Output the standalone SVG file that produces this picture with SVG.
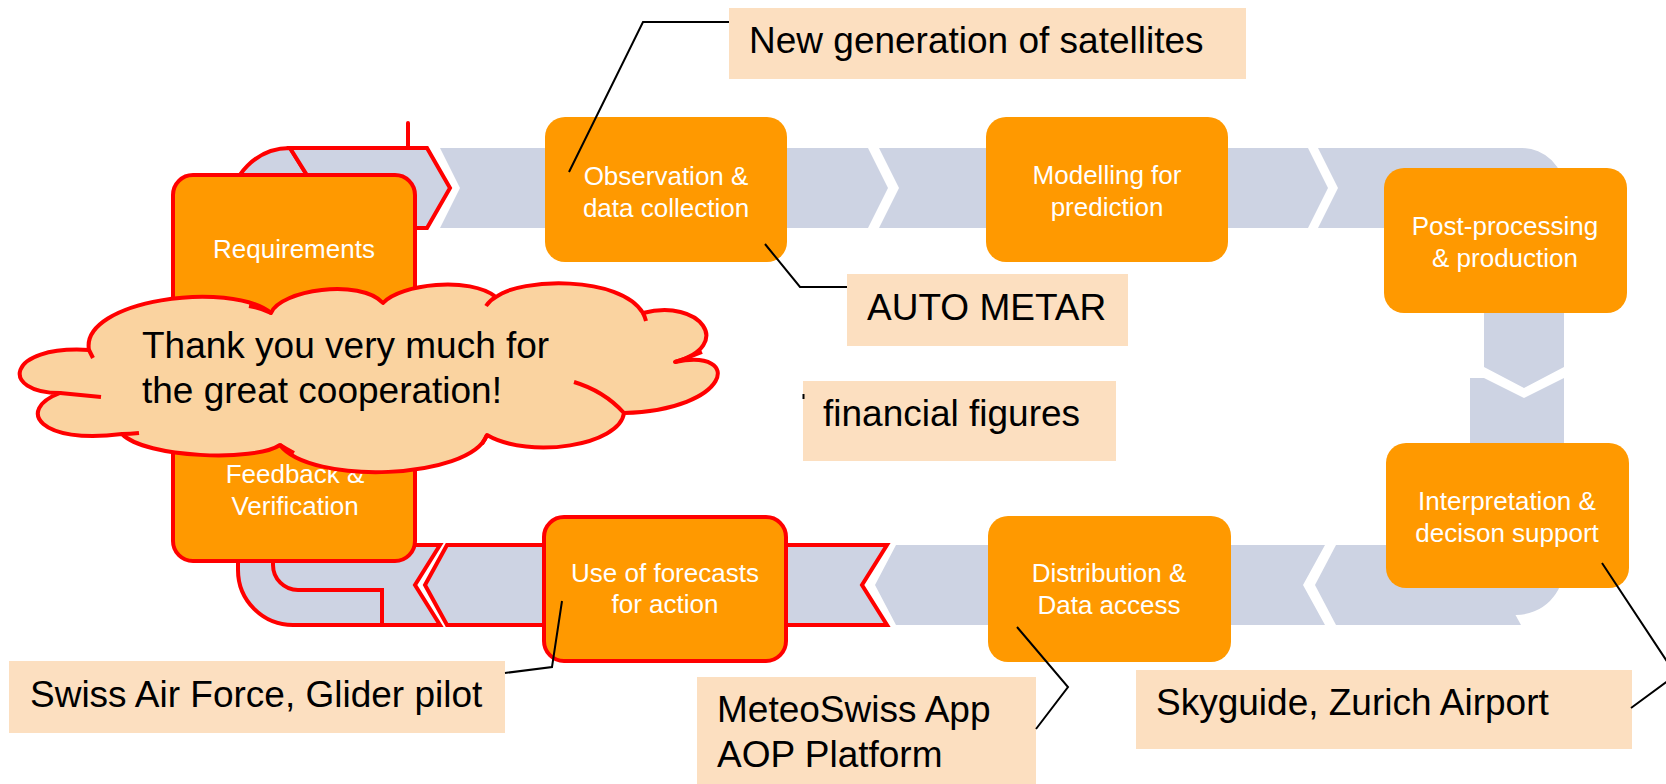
<svg xmlns="http://www.w3.org/2000/svg" width="1666" height="784" viewBox="0 0 1666 784">
<style>
.band{fill:#CDD3E3}
.hl{fill:#CDD3E3;stroke:#FF0000;stroke-width:4;stroke-linejoin:miter}
.box{fill:#FF9900}
.boxhl{fill:#FF9900;stroke:#FF0000;stroke-width:4}
.lbl{font-family:"Liberation Sans",Arial,sans-serif;font-size:26px;fill:#FFFFFF;text-anchor:middle}
.note{fill:#FCDFC0}
.ntxt{font-family:"Liberation Sans",Arial,sans-serif;font-size:37px;fill:#000000}
.lead{fill:none;stroke:#000000;stroke-width:2}
.redline{fill:none;stroke:#FF0000;stroke-width:4}
</style>
<rect width="1666" height="784" fill="#FFFFFF"/>

<!-- process band: chevron segments and corner pieces -->
<g id="connectors">
  <!-- top row -->
  <path class="band" d="M440,148 H868 L888,188 L868,228 H440 L460,188 Z"/>
  <path class="band" d="M879,148 H1308 L1328,188 L1308,228 H879 L899,188 Z"/>
  <path class="band" d="M1318,148 H1522 A42,42 0 0 1 1564,190 V367 L1524,388 L1484,367 V228 H1318 L1338,188 Z"/>
  <!-- right column, lower part with bottom-right corner -->
  <path class="band" d="M1484,378 L1524,398 L1564,378 V567 A48,48 0 0 1 1516,615 L1470,615 V378 Z"/>
  <!-- bottom row -->
  <path class="band" d="M1336,545 H1477 L1521,625 H1336 L1315,585 Z"/>
  <path class="band" d="M1325,545 L1303,585 L1325,625 H896 L875,585 L896,545 Z"/>
  <!-- highlighted segments -->
  <path class="hl" d="M887,545 L862,585 L887,625 H447 L425,585 L447,545 Z"/>
  <path class="hl" d="M440,545 L415,585 L440,625 H293 A55,55 0 0 1 238,570 V545 Z"/>
  <path class="redline" d="M273,555 V565 A25,25 0 0 0 298,590 H382 V625"/>
  <path class="hl" d="M290,148 L340,228 H230 V208 A60,60 0 0 1 290,148 Z"/>
  <path class="hl" d="M290,148 H427 L450,188 L427,228 H340 Z"/>
  <line x1="408" y1="123" x2="408" y2="148" stroke="#FF0000" stroke-width="4" stroke-linecap="round"/>
</g>

<g id="observation">
  <rect class="box" x="545" y="117" width="242" height="145" rx="20"/>
  <text class="lbl" x="666" y="185">Observation &amp;</text>
  <text class="lbl" x="666" y="217">data collection</text>
</g>
<g id="modelling">
  <rect class="box" x="986" y="117" width="242" height="145" rx="20"/>
  <text class="lbl" x="1107" y="184">Modelling for</text>
  <text class="lbl" x="1107" y="216">prediction</text>
</g>
<g id="postprocessing">
  <rect class="box" x="1384" y="168" width="243" height="145" rx="20"/>
  <text class="lbl" x="1505" y="235">Post-processing</text>
  <text class="lbl" x="1505" y="267">&amp; production</text>
</g>
<g id="interpretation">
  <rect class="box" x="1386" y="443" width="243" height="145" rx="20"/>
  <text class="lbl" x="1507" y="510">Interpretation &amp;</text>
  <text class="lbl" x="1507" y="542">decison support</text>
</g>
<g id="distribution">
  <rect class="box" x="988" y="516" width="243" height="146" rx="20"/>
  <text class="lbl" x="1109" y="582">Distribution &amp;</text>
  <text class="lbl" x="1109" y="614">Data access</text>
</g>
<g id="use-of-forecasts">
  <rect class="boxhl" x="544" y="517" width="242" height="144" rx="20"/>
  <text class="lbl" x="665" y="582">Use of forecasts</text>
  <text class="lbl" x="665" y="613">for action</text>
</g>
<g id="requirements-feedback">
  <rect class="boxhl" x="173" y="175" width="242" height="386" rx="20"/>
  <text class="lbl" x="294" y="258">Requirements</text>
  <text class="lbl" x="295" y="483">Feedback &amp;</text>
  <text class="lbl" x="295" y="515">Verification</text>
</g>

<!-- callout notes -->
<g id="note-satellites">
  <rect class="note" x="729" y="8" width="517" height="71"/>
  <text class="ntxt" x="749" y="53">New generation of satellites</text>
</g>
<g id="note-metar">
  <rect class="note" x="847" y="274" width="281" height="72"/>
  <text class="ntxt" x="867" y="320">AUTO METAR</text>
</g>
<g id="note-financial">
  <rect class="note" x="803" y="381" width="313" height="80"/>
  <text class="ntxt" x="823" y="426">financial figures</text>
</g>
<g id="note-airforce">
  <rect class="note" x="9" y="661" width="496" height="72"/>
  <text class="ntxt" x="30" y="707">Swiss Air Force, Glider pilot</text>
</g>
<g id="note-meteoswiss">
  <rect class="note" x="697" y="677" width="339" height="107"/>
  <text class="ntxt" x="717" y="722">MeteoSwiss App</text>
  <text class="ntxt" x="717" y="767">AOP Platform</text>
</g>
<g id="note-skyguide">
  <rect class="note" x="1136" y="670" width="496" height="79"/>
  <text class="ntxt" x="1156" y="715">Skyguide, Zurich Airport</text>
</g>

<!-- leader lines from notes to steps -->
<g id="leaders">
  <polyline class="lead" points="729,22 643,22 569,172"/>
  <polyline class="lead" points="847,287 800,287 765,244"/>
  <line class="lead" x1="803.5" y1="394" x2="803.5" y2="399" stroke-width="1.5"/>
  <polyline class="lead" points="562,601 552,667 505,673"/>
  <polyline class="lead" points="1017,627 1068,687 1036,729"/>
  <polyline class="lead" points="1602,563 1676,675 1631,708"/>
</g>

<!-- thank-you cloud -->
<g id="cloud">
  <path d="M89,350 C80,300 230,280 271,313 C280,290 360,278 383,303 C400,284 470,276 496,297 C520,278 620,275 643,313 C700,298 735,345 675,362 C745,348 730,410 624,413 C620,445 530,460 487,435 C470,480 310,485 280,445 C255,462 145,458 122,434 C40,445 15,410 60,393 C0,393 5,345 89,350 Z" fill="#FAD3A0" stroke="#FF0000" stroke-width="4" stroke-linejoin="round"/>
  <g class="redline" stroke-linecap="butt">
    <path d="M89,350 q2,4 4,8"/>
    <path d="M271,313 q-10,-5 -22,-7"/>
    <path d="M496,297 q-6,3 -10,9"/>
    <path d="M643,313 q2,4 3,8"/>
    <path d="M675,362 q12,-4 27,-10"/>
    <path d="M624,413 q-20,-22 -50,-31"/>
    <path d="M487,435 q-2,4 -5,9"/>
    <path d="M280,445 q6,4 14,8"/>
    <path d="M122,434 q8,0 17,-1"/>
    <path d="M60,393 q20,2 41,4"/>
  </g>
  <text class="ntxt" x="142" y="358">Thank you very much for</text>
  <text class="ntxt" x="142" y="403">the great cooperation!</text>
</g>
</svg>
